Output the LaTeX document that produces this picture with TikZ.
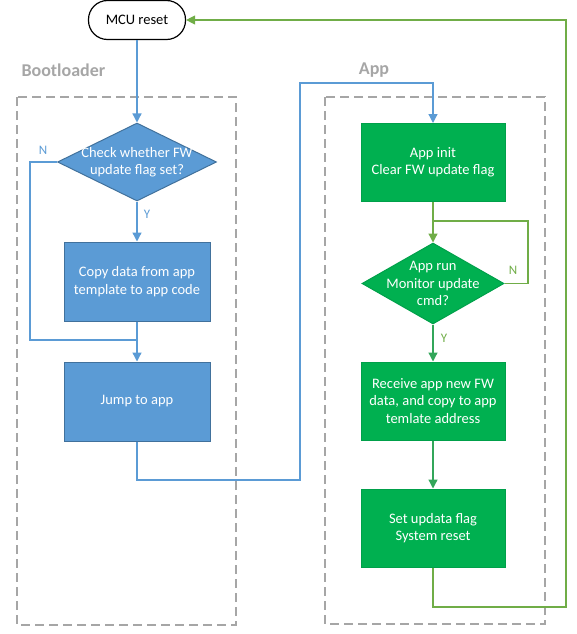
\documentclass[tikz,border=0pt]{standalone}
\usepackage{fontspec}
\setmainfont{Carlito}
\usetikzlibrary{arrows.meta,shapes.geometric}
\definecolor{blueFill}{HTML}{5B9BD5}
\definecolor{blueEdge}{HTML}{41719C}
\definecolor{greenFill}{HTML}{00B050}
\definecolor{greenEdge}{HTML}{00A04A}
\definecolor{greenLine}{HTML}{70AD47}
\definecolor{greenDark}{HTML}{33A65A}
\definecolor{greyDash}{HTML}{A6A6A6}
\begin{document}
\begin{tikzpicture}[x=1pt,y=-1pt,
  boxfont/.style={font=\fontsize{14.5}{17.5}\selectfont},
  terminal/.style={draw=black,fill=white,line width=1.2pt,rounded corners=19pt,
    minimum width=97pt,minimum height=39pt,boxfont},
  bluebox/.style={draw=blueEdge,fill=blueFill,line width=1pt,text=white,align=center,
    minimum width=146pt,minimum height=79pt,boxfont},
  greenbox/.style={draw=greenEdge,fill=greenFill,line width=1pt,text=white,align=center,
    minimum width=144pt,minimum height=78pt,boxfont},
  decision/.style={diamond,line width=1pt,inner sep=0pt},
  boxtext/.style={text=white,align=center,boxfont},
  group/.style={draw=greyDash,line width=1.2pt,dash pattern=on 9pt off 5pt},
  grouplabel/.style={text=greyDash,font=\bfseries\fontsize{18}{21}\selectfont},
  yn/.style={font=\fontsize{13}{15}\selectfont},
  tip/.style={-{Triangle[length=9pt,width=9pt]}},
  blueflow/.style={draw=blueFill,line width=1.3pt},
  greenflow/.style={draw=greenLine,line width=1.3pt},
  darkflow/.style={draw=greenDark,line width=1.3pt}]
  \useasboundingbox (0,0) rectangle (577,634);
  % groups
  \draw[group] (17,97) rectangle (236,625);
  \draw[group] (325,97) rectangle (545,624);
  \node[grouplabel,anchor=west] (bootlbl) at (18,70) {Bootloader};
  \node[grouplabel] (applbl) at (374,70) {App};
  % bootloader side
  \node[terminal] (reset) at (137,20) {MCU reset};
  \node[decision,draw=blueEdge,fill=blueFill,minimum width=159pt,minimum height=78pt] (check) at (137,162) {};
  \node[boxtext] (checktxt) at (check) {Check whether FW\\update flag set?};
  \node[bluebox] (copy) at (137,281.5) {Copy data from app\\template to app code};
  \node[bluebox] (jump) at (137,401.5) {Jump to app};
  % app side
  \node[greenbox] (init) at (433,162.5) {App init\\Clear FW update flag};
  \node[decision,draw=greenEdge,fill=greenFill,minimum width=142pt,minimum height=81pt] (run) at (433,283.5) {};
  \node[boxtext] (runtxt) at (run) {App run\\Monitor update\\cmd?};
  \node[greenbox] (recv) at (433,401) {Receive app new FW\\data, and copy to app\\temlate address};
  \node[greenbox] (setflag) at (433,528) {Set updata flag\\System reset};
  % turning points
  \coordinate (nturn) at (30,340);
  \coordinate (nmerge) at (137,340);
  \coordinate (jturn) at (300,480);
  \coordinate (jtop) at (300,83);
  \coordinate (loopc) at (528,221);
  \coordinate (loopm) at (433,221);
  \coordinate (rbot) at (566,607);
  \coordinate (rtop) at (566,20);
  % connectors
  \draw[blueflow,tip] (reset) -- (check);
  \draw[blueflow] (check.west) -| (nturn) -- (nmerge);
  \draw[blueflow,tip] (check) -- (copy);
  \draw[blueflow,tip] (copy) -- (jump);
  \draw[blueflow,tip] (jump.south) |- (jturn) -- (jtop) -| (init.north);
  \draw[greenflow,tip] (init) -- (run);
  \draw[greenflow] (run.east) -| (loopc) -- (loopm);
  \draw[darkflow,tip] (run) -- (recv);
  \draw[darkflow,tip] (recv) -- (setflag);
  \draw[greenflow,tip] (setflag.south) |- (rbot) -- (rtop) -- (reset.east);
  % branch labels
  \node[yn,text=blueFill] (nblue) at (43,150) {N};
  \node[yn,text=blueFill] (yblue) at (147,214) {Y};
  \node[yn,text=greenLine] (ngreen) at (513,270) {N};
  \node[yn,text=greenLine] (ygreen) at (444,338) {Y};
\end{tikzpicture}
\end{document}
